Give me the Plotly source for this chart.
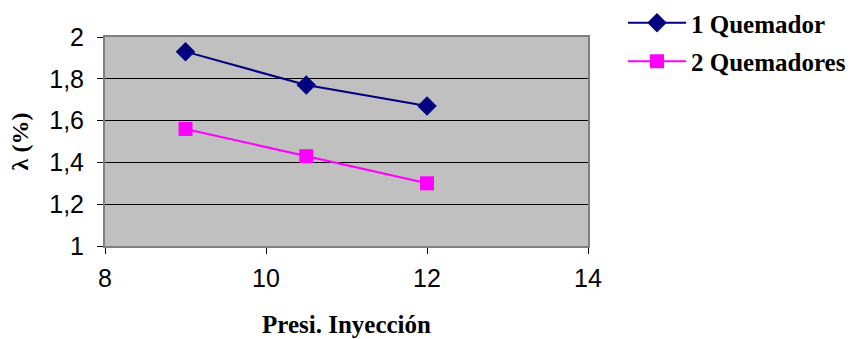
import plotly.graph_objects as go

# Injection pressure (x) and lambda (%) for each burner configuration
presion = [9, 10.5, 12]
un_quemador = [1.93, 1.77, 1.67]
dos_quemadores = [1.56, 1.43, 1.30]

x_ticks = [8, 10, 12, 14]
y_ticks = [1, 1.2, 1.4, 1.6, 1.8, 2]
y_tick_text = ["1", "1,2", "1,4", "1,6", "1,8", "2"]

SERIF = "Liberation Serif, Times New Roman, serif"
SANS = "Liberation Sans, Arial, sans-serif"

fig = go.Figure()
fig.add_trace(go.Scatter(
    x=presion, y=un_quemador, name="<b>1 Quemador</b>", legendgroup="a",
    mode="lines+markers",
    line=dict(color="#000080", width=2),
    marker=dict(symbol="diamond", size=15, color="#000080"),
))
fig.add_trace(go.Scatter(
    x=presion, y=dos_quemadores, name="<b>2 Quemadores</b>", legendgroup="b",
    mode="lines+markers",
    line=dict(color="#FF00FF", width=2),
    marker=dict(symbol="square", size=14, color="#FF00FF"),
))

fig.update_layout(
    width=858, height=339,
    margin=dict(l=105, r=270, t=37, b=93, autoexpand=False),
    paper_bgcolor="white",
    plot_bgcolor="#C0C0C0",
    showlegend=True,
    legend=dict(
        x=623 / 858, y=1.0, xref="container", yref="container",
        xanchor="left", yanchor="top",
        font=dict(family=SERIF, size=25, color="black"),
        traceorder="grouped", tracegroupgap=3,
        bgcolor="rgba(0,0,0,0)", itemwidth=58,
    ),
    xaxis=dict(
        range=[8, 14], tickvals=x_ticks, ticks="outside", ticklen=6,
        tickcolor="#000", tickfont=dict(family=SANS, size=25, color="black"),
        ticklabelstandoff=3, automargin=False,
        showgrid=False, zeroline=False,
        showline=True, linecolor="#808080", linewidth=2, mirror=True,
        title=dict(text="<b>Presi. Inyección</b>",
                   font=dict(family=SERIF, size=25, color="black"),
                   standoff=24),
    ),
    yaxis=dict(
        range=[1, 2], tickvals=y_ticks, ticktext=y_tick_text, ticks="outside", ticklen=6,
        tickcolor="#000", tickfont=dict(family=SANS, size=25, color="black"),
        ticklabelstandoff=8, automargin=False,
        showgrid=True, gridcolor="black", gridwidth=1, zeroline=False,
        showline=True, linecolor="#808080", linewidth=2, mirror=True,
        title=dict(text="<b>λ (%)</b>",
                   font=dict(family=SERIF, size=24, color="black"),
                   standoff=14),
    ),
)

fig.write_html("out.html")
